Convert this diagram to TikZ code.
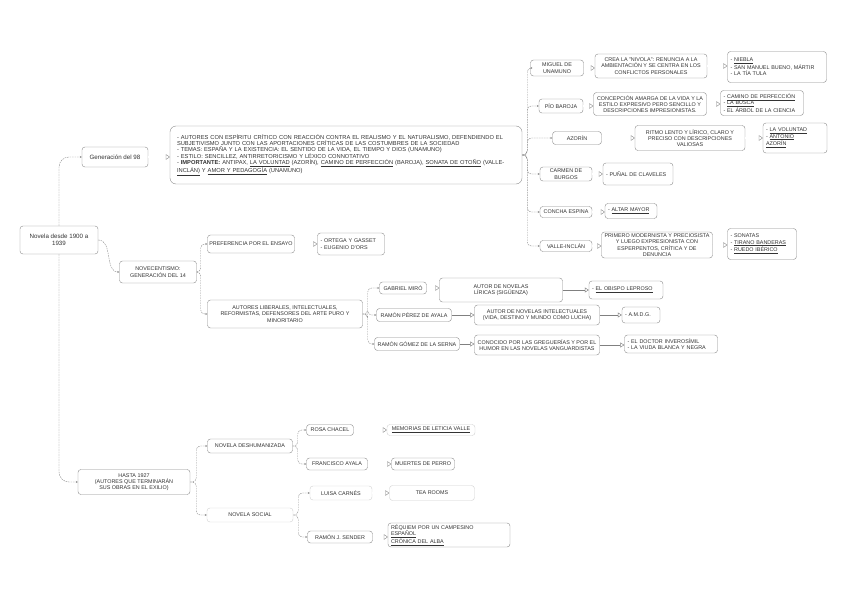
\documentclass[tikz,border=0pt]{standalone}
\usepackage{fontspec}
\setmainfont{Liberation Sans}
\usepackage{tikz}
\usetikzlibrary{arrows.meta}

\newcommand{\obra}[1]{\underline{#1}}

\begin{document}
\begin{tikzpicture}[
  x=1pt, y=-1pt,
  font=\fontsize{5.4}{6.3}\selectfont,
  caja/.style={
    draw=black!45, rounded corners=3pt, align=center, fill=white,
    inner sep=1.5pt, line width=0.4pt, text=black!80
  },
  cajaclara/.style={caja, draw=black!18},
  lista/.style={caja, align=left},
  tema/.style={caja, font=\fontsize{6.2}{7.4}\selectfont},
  rama/.style={
    draw=black!45, line width=0.4pt, dash pattern=on 1.6pt off 0.9pt,
    rounded corners=4pt, -{Stealth[length=2pt, width=2pt]}
  },
  doble/.style={
    draw=black!50, double=white, double distance=1.1pt, line width=0.35pt,
    -{Triangle[open, length=4pt, width=5.5pt]}
  },
  simple/.style={
    draw=black!50, line width=0.45pt,
    -{Triangle[open, length=4pt, width=5pt]}
  }
]
  \useasboundingbox[fill=white] (0,0) rectangle (848,599);

  %% raiz
  \node[tema, minimum width=78pt, minimum height=28pt] (raiz) at (59,240) {Novela desde 1900 a\\1939};

  %% Generacion del 98
  \node[tema, minimum width=66pt, minimum height=20pt] (g98) at (115,157) {Generación del 98};
  \node[lista, text width=338pt, minimum height=58pt, inner xsep=7pt, rounded corners=6pt,
        font=\fontsize{5.75}{6.4}\selectfont] (rasgos) at (346,155) {%
    - AUTORES CON ESPÍRITU CRÍTICO CON REACCIÓN CONTRA EL REALISMO Y EL NATURALISMO, DEFENDIENDO EL\\
    SUBJETIVISMO JUNTO CON LAS APORTACIONES CRÍTICAS DE LAS COSTUMBRES DE LA SOCIEDAD\\
    - TEMAS: ESPAÑA Y LA EXISTENCIA: EL SENTIDO DE LA VIDA, EL TIEMPO Y DIOS (UNAMUNO)\\
    - ESTILO: SENCILLEZ, ANTIRRETORICISMO Y LÉXICO CONNOTATIVO\\
    - \textbf{IMPORTANTE:} ANTIPAX, \obra{LA VOLUNTAD} (AZORÍN), \obra{CAMINO DE PERFECCIÓN} (BAROJA), \obra{SONATA DE OTOÑO} (VALLE-\\
    \obra{INCLÁN)} Y \obra{AMOR Y PEDAGOGÍA} (UNAMUNO)};
  \draw[doble] (g98.east) -- (g98.east -| rasgos.west);
  \draw[rama, rounded corners=10pt] (raiz.north) |- (g98.west);

  %% autores del 98
  \node[caja, minimum width=53pt, minimum height=16pt] (unamuno) at (557,68) {MIGUEL DE\\UNAMUNO};
  \node[caja, minimum width=112pt, minimum height=24pt] (unamunoA) at (651,66) {CREA LA "NIVOLA": RENUNCIA A LA\\AMBIENTACIÓN Y SE CENTRA EN LOS\\CONFLICTOS PERSONALES};
  \node[lista, text width=93pt, minimum height=31pt, inner xsep=3pt] (unamunoB) at (777,67) {- \obra{NIEBLA}\\- SAN MANUEL BUENO, MÁRTIR\\- LA TÍA TULA};

  \node[caja, minimum width=44pt, minimum height=14pt] (baroja) at (561,106) {PÍO BAROJA};
  \node[caja, minimum width=113pt, minimum height=23pt] (barojaA) at (650,104) {CONCEPCIÓN AMARGA DE LA VIDA Y LA\\ESTILO EXPRESIVO PERO SENCILLO Y\\DESCRIPCIONES IMPRESIONISTAS.};
  \node[lista, text width=77pt, minimum height=25pt, inner xsep=3pt] (barojaB) at (762,103) {- \obra{CAMINO DE PERFECCIÓN}\\- \obra{LA BUSCA}\\- EL ÁRBOL DE LA CIENCIA};

  \node[caja, minimum width=49pt, minimum height=13pt] (azorin) at (577,138) {AZORÍN};
  \node[caja, minimum width=110pt, minimum height=25pt] (azorinA) at (690,138) {RITMO LENTO Y LÍRICO, CLARO Y\\PRECISO CON DESCRIPCIONES\\VALIOSAS};
  \node[lista, text width=58pt, minimum height=30pt, inner xsep=3pt] (azorinB) at (795,138) {- \obra{LA VOLUNTAD}\\- \obra{ANTONIO}\\\obra{AZORÍN}};

  \node[caja, minimum width=52pt, minimum height=14pt] (carmen) at (566,174) {CARMEN DE\\BURGOS};
  \node[lista, text width=64pt, minimum height=22pt, inner xsep=3pt] (carmenB) at (638,174) {- PUÑAL DE CLAVELES};

  \node[caja, minimum width=52pt, minimum height=11pt] (concha) at (566,212) {CONCHA ESPINA};
  \node[lista, text width=46pt, minimum height=15pt, inner xsep=3pt] (conchaB) at (631,211) {- \obra{ALTAR MAYOR}};

  \node[caja, minimum width=52pt, minimum height=11pt] (valle) at (566,246) {VALLE-INCLÁN};
  \node[caja, minimum width=111pt, minimum height=26pt] (valleA) at (657,245) {PRIMERO MODERNISTA Y PRECIOSISTA\\Y LUEGO EXPRESIONISTA CON\\ESPERPENTOS, CRÍTICA Y DE\\DENUNCIA};
  \node[lista, text width=63pt, minimum height=31pt, inner xsep=3pt] (valleB) at (762,244) {- SONATAS\\- \obra{TIRANO BANDERAS}\\- \obra{RUEDO IBÉRICO}};

  \foreach \a in {unamuno, baroja, azorin, carmen, concha, valle}
    \draw[rama] (rasgos.east) -- ++(5,0) |- (\a.west);
  \foreach \a/\b in {unamuno/unamunoA, baroja/barojaA, azorin/azorinA, carmen/carmenB, concha/conchaB, valle/valleA}
    \draw[doble] (\a.east) -- (\a.east -| \b.west);
  \foreach \a/\b in {unamunoA/unamunoB, barojaA/barojaB, azorinA/azorinB, valleA/valleB}
    \draw[doble] (\a.east) -- (\a.east -| \b.west);

  %% Novecentismo
  \node[caja, minimum width=77pt, minimum height=22pt] (nov) at (158,272) {NOVECENTISMO:\\GENERACIÓN DEL 14};
  \draw[rama] (raiz.east) to[out=0, in=180] (nov.west);

  \node[caja, minimum width=87pt, minimum height=18pt] (ensayo) at (251,244) {PREFERENCIA POR EL ENSAYO};
  \node[lista, text width=61pt, minimum height=22pt, inner xsep=3pt] (ensayoB) at (351,244) {- ORTEGA Y GASSET\\- EUGENIO D'ORS};
  \node[caja, minimum width=155pt, minimum height=28pt] (liberales) at (285,314) {AUTORES LIBERALES, INTELECTUALES,\\REFORMISTAS, DEFENSORES DEL ARTE PURO Y\\MINORITARIO};
  \draw[rama] (nov.east) -- ++(4,0) |- (ensayo.west);
  \draw[rama] (nov.east) -- ++(4,0) |- (liberales.west);
  \draw[doble] (ensayo.east) -- (ensayo.east -| ensayoB.west);

  \node[caja, minimum width=47pt, minimum height=12pt] (miro) at (403,288) {GABRIEL MIRÓ};
  \node[caja, minimum width=123pt, minimum height=24pt] (miroA) at (501,290) {AUTOR DE NOVELAS\\LÍRICAS (SIGÜENZA)};
  \node[lista, text width=68pt, minimum height=18pt, inner xsep=3pt] (miroB) at (626,290) {- \obra{EL OBISPO LEPROSO}};

  \node[caja, minimum width=75pt, minimum height=13pt] (ayala) at (414,315) {RAMÓN PÉREZ DE AYALA};
  \node[caja, minimum width=125pt, minimum height=20pt] (ayalaA) at (537,315) {AUTOR DE NOVELAS INTELECTUALES\\(VIDA, DESTINO Y MUNDO COMO LUCHA)};
  \node[lista, text width=32pt, minimum height=16pt, inner xsep=3pt] (ayalaB) at (641,315) {- A.M.D.G.};

  \node[caja, minimum width=85pt, minimum height=13pt] (serna) at (417,344) {RAMÓN GÓMEZ DE LA SERNA};
  \node[caja, minimum width=125pt, minimum height=20pt] (sernaA) at (537,345) {CONOCIDO POR LAS GREGUERÍAS Y POR EL\\HUMOR EN LAS NOVELAS VANGUARDISTAS};
  \node[lista, text width=87pt, minimum height=18pt, inner xsep=3pt] (sernaB) at (671,344) {- EL DOCTOR INVEROSÍMIL\\- LA VIUDA BLANCA Y NEGRA};

  \foreach \a in {miro, ayala, serna}
    \draw[rama] (liberales.east) -- ++(5,0) |- (\a.west);
  \draw[doble] (miro.east) -- (miro.east -| miroA.west);
  \foreach \a/\b in {miroA/miroB, ayala/ayalaA, ayalaA/ayalaB, serna/sernaA, sernaA/sernaB}
    \draw[simple] (\a.east) -- (\a.east -| \b.west);

  %% Hasta 1927
  \node[caja, minimum width=112pt, minimum height=25pt] (exilio) at (134,482) {HASTA 1927\\(AUTORES QUE TERMINARÁN\\SUS OBRAS EN EL EXILIO)};
  \draw[rama, rounded corners=10pt] (raiz.south) |- (exilio.west);

  \node[caja, minimum width=85pt, minimum height=14pt] (deshum) at (250,446) {NOVELA DESHUMANIZADA};
  \node[cajaclara, minimum width=86pt, minimum height=14pt] (social) at (250,515) {NOVELA SOCIAL};
  \draw[rama] (exilio.east) -- ++(6,0) |- (deshum.west);
  \draw[rama] (exilio.east) -- ++(6,0) |- (social.west);

  \node[caja, minimum width=47pt, minimum height=11pt] (chacel) at (330,430) {ROSA CHACEL};
  \node[cajaclara, minimum width=88pt, minimum height=11pt] (chacelB) at (431,430) {\obra{MEMORIAS DE LETICIA VALLE}};
  \node[caja, minimum width=61pt, minimum height=12pt] (fayala) at (337,464) {FRANCISCO AYALA};
  \node[caja, minimum width=63pt, minimum height=12pt] (fayalaB) at (423,464) {MUERTES DE PERRO};
  \draw[rama] (deshum.east) -- ++(5,0) |- (chacel.west);
  \draw[rama] (deshum.east) -- ++(5,0) |- (fayala.west);

  \node[cajaclara, minimum width=62pt, minimum height=14pt] (carnes) at (341,493) {LUISA CARNÉS};
  \node[cajaclara, minimum width=85pt, minimum height=15pt] (carnesB) at (432,493) {TEA ROOMS};
  \node[caja, minimum width=65pt, minimum height=12pt] (sender) at (340,537) {RAMÓN J. SENDER};
  \node[lista, text width=116pt, minimum height=24pt, inner xsep=3pt] (senderB) at (449,535) {RÉQUIEM POR UN CAMPESINO\\\obra{ESPAÑOL}\\\obra{CRÓNICA DEL ALBA}};
  \draw[rama] (social.east) -- ++(5,0) |- (carnes.west);
  \draw[rama] (social.east) -- ++(5,0) |- (sender.west);

  \foreach \a/\b in {chacel/chacelB, fayala/fayalaB, carnes/carnesB, sender/senderB}
    \draw[doble] (\a.east) -- (\a.east -| \b.west);
\end{tikzpicture}
\end{document}
